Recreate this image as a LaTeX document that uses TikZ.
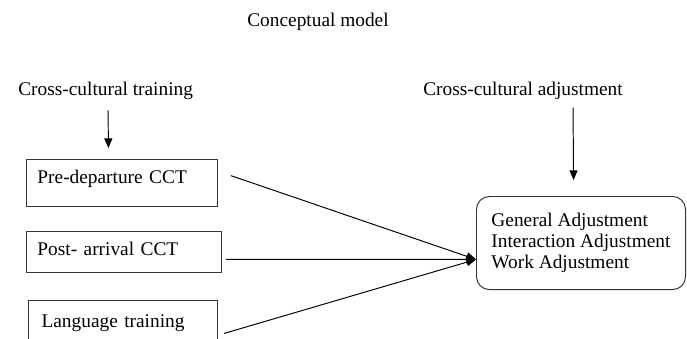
\documentclass[tikz,border=0pt]{standalone}
\usepackage{fontspec}
\setmainfont{Liberation Serif}
\usepackage{tikz}
\usetikzlibrary{arrows.meta,positioning,calc}

\begin{document}
\begin{tikzpicture}[x=0.62pt,y=-0.62pt,
    font=\fontsize{12pt}{13pt}\selectfont,
    lbl/.style={inner sep=0pt},
    cctbox/.style={draw=black!80, line width=0.6pt, rectangle,
      anchor=north west, align=left, inner ysep=0pt, inner xsep=6.8pt,
      text height=14.9pt},
    adjbox/.style={draw=black!80, line width=0.6pt, rounded corners=8pt,
      anchor=north west, align=flush left, inner xsep=9.3pt,
      text width=111pt, minimum width=129.6pt, minimum height=57.7pt},
    flow/.style={line width=0.6pt, -{Triangle[length=6pt,width=5pt]}}
  ]
  \clip (0,0) rectangle (687,338);

  % headings
  \node[lbl, anchor=base] (title) at (318,26) {Conceptual model};
  \node[lbl, anchor=base west] (cct) at (18,95) {Cross-cultural training};
  \node[lbl, anchor=base west] (cca) at (423,95) {Cross-cultural adjustment};

  % training boxes
  \node[cctbox, text width=104.8pt, text depth=14.3pt] (pre) at (26,159) {Pre-departure CCT};
  \node[cctbox, text width=107.3pt, text depth=10.5pt] (post) at (26,231) {Post- arrival CCT};
  \node[cctbox, inner xsep=8.1pt, text height=16.7pt, text width=101pt, text depth=11.2pt] (lang) at (28,300) {Language training};

  % adjustment box
  \node[adjbox] (adj) at (476,196) {General Adjustment\\Interaction Adjustment\\Work Adjustment};

  \coordinate (hub) at ([yshift=-10.2pt]adj.west);

  \draw[flow] ([xshift=1.5pt,yshift=-6.8pt]cct.south) -- ([xshift=-8.4pt,yshift=6.8pt]pre.north);
  \draw[flow] ([xshift=31pt,yshift=-5pt]cca.south) -- ([xshift=-4.6pt,yshift=9.9pt]adj.north);

  \draw[flow] ([xshift=8pt,yshift=4.6pt]pre.east) -- (hub);
  \draw[flow] ([xshift=2.5pt,yshift=-4.6pt]post.east) -- (hub);
  \draw[flow] ([xshift=3.7pt,yshift=-6.5pt]lang.east) -- (hub);
\end{tikzpicture}
\end{document}
